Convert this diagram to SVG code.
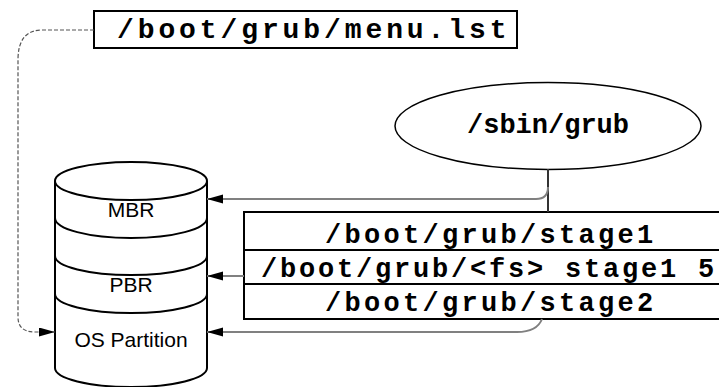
<svg xmlns="http://www.w3.org/2000/svg" width="719" height="387" viewBox="0 0 719 387">
<style>
.mono{font-family:"Liberation Mono","Courier New",monospace;font-weight:bold;fill:#000}
.sans{font-family:"Liberation Sans",Arial,sans-serif;fill:#000;text-anchor:middle;font-size:21px}
.box{fill:#fff;stroke:#000;stroke-width:2}
.cyl{fill:#fff;stroke:#000;stroke-width:2}
.sep{fill:none;stroke:#000;stroke-width:2}
.conn{fill:none;stroke:#808080;stroke-width:2}
.dash{fill:none;stroke:#555;stroke-width:1.2;stroke-dasharray:4,2}
</style>
<defs>
<marker id="arr" markerUnits="userSpaceOnUse" markerWidth="16" markerHeight="10" refX="16" refY="4.5" orient="auto">
<path d="M0,0 L16,4.5 L0,9 z" fill="#000"/>
</marker>
</defs>
<rect width="719" height="387" fill="#fff"/>
<g id="cylinder">
<path class="cyl" d="M55,181 L55,368 A76,19 0 0 0 207,368 L207,181"/>
<ellipse class="cyl" cx="131" cy="181" rx="76" ry="19"/>
<path class="sep" d="M55,218 A76,20 0 0 0 207,218"/>
<path class="sep" d="M55,256 A76,19 0 0 0 207,256"/>
<path class="sep" d="M55,294 A76,19 0 0 0 207,294"/>
<text class="sans" x="131" y="217">MBR</text>
<text class="sans" x="131" y="292">PBR</text>
<text class="sans" x="131" y="347">OS Partition</text>
</g>
<g id="menu">
<rect class="box" x="94" y="11" width="423" height="37"/>
<text class="mono" x="117" y="38" font-size="28" letter-spacing="3.9">/boot/grub/menu.lst</text>
</g>
<g id="sbin">
<ellipse fill="#fff" stroke="#000" stroke-width="1.5" cx="548" cy="126" rx="153" ry="43.5"/>
<text class="mono" x="548" y="133" font-size="27" text-anchor="middle">/sbin/grub</text>
</g>
<g id="stages">
<rect class="box" x="244" y="212" width="500" height="107"/>
<line x1="244" y1="250" x2="744" y2="250" stroke="#000" stroke-width="2"/>
<line x1="244" y1="284" x2="744" y2="284" stroke="#000" stroke-width="2"/>
<text class="mono" x="325" y="243" font-size="27" letter-spacing="3.3">/boot/grub/stage1</text>
<text class="mono" x="261" y="277" font-size="27" letter-spacing="2.8">/boot/grub/&lt;fs&gt; stage1 5</text>
<text class="mono" x="325" y="311" font-size="27" letter-spacing="3.3">/boot/grub/stage2</text>
</g>
<g id="connectors">
<path d="M548,169 L548,212" fill="none" stroke="#333" stroke-width="2"/>
<path class="conn" d="M548,187 Q548,199 536,199 L207,199" marker-end="url(#arr)"/>
<path class="conn" d="M244,276 L207,276" marker-end="url(#arr)"/>
<path class="conn" d="M542,319 Q537,332 517,332 L207,332" marker-end="url(#arr)"/>
<path class="dash" d="M94,30 L42,30 Q18,30 18,60 L18,317 Q18,332 35,332 L55,332" marker-end="url(#arr)"/>
</g>
</svg>
